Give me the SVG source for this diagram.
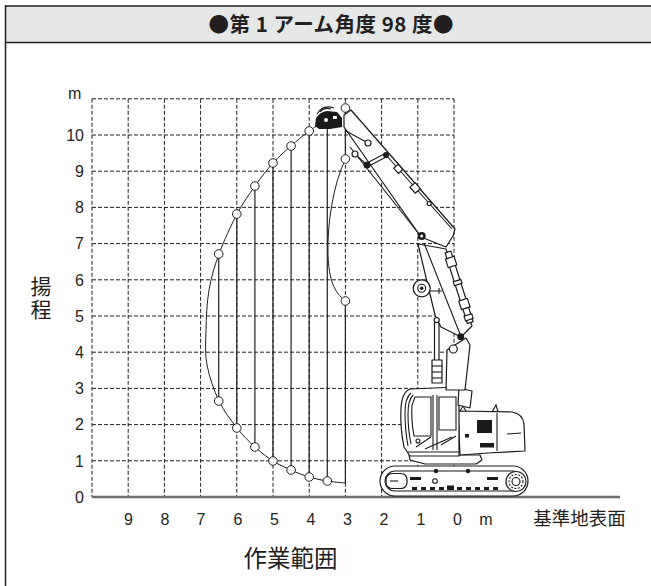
<svg xmlns="http://www.w3.org/2000/svg" width="651" height="586" viewBox="0 0 651 586">
<style>
.ln{stroke:#231f20;fill:none}
.grid line{stroke:#231f20;stroke-width:1;stroke-dasharray:4 2}
.num{font-family:"Liberation Sans",Arial,sans-serif;font-size:16px;fill:#231f20}
.jp{font-family:"Noto Sans CJK JP",sans-serif;fill:#231f20}
.pt{fill:#fff;stroke:#231f20;stroke-width:1}
.ex{stroke:#1a1a1a;stroke-width:1.2;fill:#fff;stroke-linejoin:round}
.exl{stroke:#1a1a1a;stroke-width:1.1;fill:none}
.blk{fill:#1a1a1a}
</style>
<g id="frame">
<rect x="5.5" y="6" width="646" height="36.5" fill="#e6e7e7"/>
<line x1="5" y1="6" x2="651" y2="6" stroke="#231f20" stroke-width="1.5"/>
<line x1="5" y1="42.5" x2="651" y2="42.5" stroke="#231f20" stroke-width="1.5"/>
<line x1="5.5" y1="5.3" x2="5.5" y2="586" stroke="#231f20" stroke-width="1.5"/>
</g>
<g id="title">
<text class="jp" x="331" y="31.5" text-anchor="middle" font-size="20.5" font-weight="700" textLength="245" lengthAdjust="spacing">●第 1 アーム角度 98 度●</text>
</g>
<g id="grid" class="grid">
<line x1="92" y1="98.8" x2="92" y2="497"/>
<line x1="128.2" y1="98.8" x2="128.2" y2="497"/>
<line x1="164.4" y1="98.8" x2="164.4" y2="497"/>
<line x1="200.6" y1="98.8" x2="200.6" y2="497"/>
<line x1="236.8" y1="98.8" x2="236.8" y2="497"/>
<line x1="273" y1="98.8" x2="273" y2="497"/>
<line x1="309.2" y1="98.8" x2="309.2" y2="497"/>
<line x1="345.4" y1="98.8" x2="345.4" y2="497"/>
<line x1="381.6" y1="98.8" x2="381.6" y2="497"/>
<line x1="417.8" y1="98.8" x2="417.8" y2="497"/>
<line x1="454" y1="98.8" x2="454" y2="497"/>
<line x1="92" y1="98.8" x2="454" y2="98.8"/>
<line x1="92" y1="135" x2="454" y2="135"/>
<line x1="92" y1="171.2" x2="454" y2="171.2"/>
<line x1="92" y1="207.4" x2="454" y2="207.4"/>
<line x1="92" y1="243.6" x2="454" y2="243.6"/>
<line x1="92" y1="279.8" x2="454" y2="279.8"/>
<line x1="92" y1="316" x2="454" y2="316"/>
<line x1="92" y1="352.2" x2="454" y2="352.2"/>
<line x1="92" y1="388.4" x2="454" y2="388.4"/>
<line x1="92" y1="424.6" x2="454" y2="424.6"/>
<line x1="92" y1="460.8" x2="454" y2="460.8"/>
</g>
<g id="ground">
<line x1="92" y1="497" x2="620" y2="497" stroke="#6d6e71" stroke-width="2.5"/>
</g>
<g id="y-axis">
<text class="num" x="68" y="99">m</text>
<g text-anchor="end">
<text class="num" x="84" y="140.8">10</text>
<text class="num" x="84" y="177">9</text>
<text class="num" x="84" y="213.2">8</text>
<text class="num" x="84" y="249.4">7</text>
<text class="num" x="84" y="285.6">6</text>
<text class="num" x="84" y="321.8">5</text>
<text class="num" x="84" y="358">4</text>
<text class="num" x="84" y="394.2">3</text>
<text class="num" x="84" y="430.4">2</text>
<text class="num" x="84" y="466.6">1</text>
<text class="num" x="84" y="502.8">0</text>
</g>
<text class="jp" x="41" y="275.5" font-size="21" style="writing-mode:vertical-rl;letter-spacing:2.3px">揚程</text>
</g>
<g id="x-axis" text-anchor="middle">
<text class="num" x="128.5" y="524.5" font-size="16.5">9</text>
<text class="num" x="165" y="524.5" font-size="16.5">8</text>
<text class="num" x="201" y="524.5" font-size="16.5">7</text>
<text class="num" x="238" y="524.5" font-size="16.5">6</text>
<text class="num" x="274.5" y="524.5" font-size="16.5">5</text>
<text class="num" x="311" y="524.5" font-size="16.5">4</text>
<text class="num" x="347.5" y="524.5" font-size="16.5">3</text>
<text class="num" x="384" y="524.5" font-size="16.5">2</text>
<text class="num" x="421" y="524.5" font-size="16.5">1</text>
<text class="num" x="457.5" y="524.5" font-size="16.5">0</text>
<text class="num" x="486" y="524.5" font-size="16.5">m</text>
<text class="jp" x="579.5" y="525" font-size="18.5">基準地表面</text>
<text class="jp" x="290.5" y="567" font-size="23.5">作業範囲</text>
</g>
<g id="working-range" class="ln">
<path stroke-width="1" d="M325,121 C322.3,122.7 314.7,126.8 309,131 C303.3,135.2 297,140.7 291,146 C285,151.3 279,156.3 273,163 C267,169.7 261,177.5 255,186 C249,194.5 243,202.7 237,214 C231,225.3 223.7,241.3 219,254 C214.3,266.7 211.2,277.3 209,290 C206.8,302.7 206.3,317.5 206,330 C205.7,342.5 204.8,353.2 207,365 C209.2,376.8 214,390.5 219,401 C224,411.5 231,420.3 237,428 C243,435.7 249,441.5 255,447 C261,452.5 267,457.2 273,461 C279,464.8 285,467.3 291,470 C297,472.7 303,475.2 309,477 C315,478.8 321,480 327,481 C333,482 342,482.7 345.4,483"/>
<path stroke-width="1" d="M345.4,159 C333,185 327,225 328,255 C329,280 334,292 345.4,301"/>
<g stroke-width="1.2">
<line x1="218.7" y1="254" x2="218.7" y2="401"/>
<line x1="236.8" y1="214" x2="236.8" y2="428"/>
<line x1="254.9" y1="186" x2="254.9" y2="447"/>
<line x1="273" y1="163" x2="273" y2="461"/>
<line x1="291.1" y1="146" x2="291.1" y2="470"/>
<line x1="309.2" y1="131" x2="309.2" y2="477"/>
<line x1="327.3" y1="124" x2="327.3" y2="481"/>
<line x1="345.4" y1="108" x2="345.4" y2="159"/>
<line x1="345.4" y1="301" x2="345.4" y2="483"/>
</g>
</g>
<g id="excavator">
<g id="track">
<rect class="ex" x="380" y="466" width="148" height="30" rx="15" stroke-width="1.6"/>
<rect class="exl" x="385" y="471" width="138" height="20" rx="10"/>
<rect class="ex" x="386" y="473.5" width="21" height="15" rx="6"/>
<line class="exl" x1="390" y1="481" x2="398" y2="481" stroke-width="2"/>
<circle class="ex" cx="516" cy="481.5" r="10" stroke-width="1.5"/>
<circle class="exl" cx="516" cy="481.5" r="7" stroke-dasharray="2 1.5" stroke-width="2"/>
<circle class="exl" cx="516" cy="481.5" r="4"/>
<rect class="blk" x="412" y="487" width="5" height="3"/>
<rect class="blk" x="421" y="487" width="5" height="3"/>
<rect class="blk" x="430" y="487" width="5" height="3"/>
<rect class="blk" x="439" y="487" width="5" height="3"/>
<rect class="blk" x="447" y="485.5" width="7" height="4.5"/>
<rect class="blk" x="457" y="487" width="5" height="3"/>
<rect class="blk" x="466" y="487" width="5" height="3"/>
<rect class="blk" x="475" y="487" width="5" height="3"/>
<rect class="blk" x="484" y="487" width="5" height="3"/>
<rect class="blk" x="493" y="487" width="5" height="3"/>
<circle class="blk" cx="436" cy="471" r="2.2"/>
<circle class="blk" cx="468" cy="471" r="2.2"/>
<circle class="exl" cx="435" cy="481" r="2.3"/>
<rect class="blk" x="410" y="477" width="11" height="3"/>
<rect class="blk" x="487" y="477" width="11" height="3"/>
</g>
<path class="ex" d="M409,455 L480,455 L482,460 L476,464 L425,464 L410,460 Z"/>
<g id="housing">
<path class="ex" d="M458,411 L512,412 Q523,414 524,424 L525,451 L488,453 L460,455 Z"/>
<rect class="blk" x="477" y="420" width="15" height="13"/>
<rect class="blk" x="465" y="434" width="4" height="3.5"/>
<rect class="blk" x="480" y="443" width="14" height="4.5"/>
<line class="exl" x1="497" y1="413" x2="497" y2="451"/>
<path class="exl" d="M507,434 L521,433"/>
<path class="exl" d="M492,412 L496,405 L498,412"/>
<path class="exl" d="M460,411 L463,406 L466,411"/>
</g>
<g id="cab">
<path class="ex" d="M410,456 L404,447 Q400,428 401,408 Q402,392 410,389 L459,387 L459,456 Z" stroke-width="1.5"/>
<path class="exl" d="M411,393 Q405,398 405,412 Q405,430 408,446"/>
<path class="exl" d="M413,395 Q408,400 408,414 Q408,430 411,444"/>
<path class="exl" d="M415,397 L431,397 L431,436 L414,436 Q411,420 412,405 Z"/>
<line class="exl" x1="433" y1="395" x2="433" y2="450"/>
<line class="exl" x1="437" y1="395" x2="437" y2="450"/>
<path class="exl" d="M439,397 L456,397 L456,430 L439,430 Z"/>
<path class="exl" d="M416,447 L431,437 M425,449 L452,437 M441,445 L456,436"/>
<circle class="exl" cx="418" cy="441" r="2"/>
<line class="exl" x1="408" y1="452" x2="459" y2="452"/>
</g>
<path class="ex" d="M459,388 L472,391 L470,408 L458,405 Z"/>
<g id="boom">
<path class="ex" d="M447,350 L466,338 L470,345 L465,390 L446,390 Z"/>
<rect class="ex" x="434.5" y="322" width="4.5" height="40"/>
<rect class="ex" x="432" y="360" width="10" height="23"/>
<line class="exl" x1="432" y1="366" x2="442" y2="366"/>
<line class="exl" x1="432" y1="372" x2="442" y2="372"/>
<line class="exl" x1="432" y1="378" x2="442" y2="378"/>
<path class="ex" d="M418,244 L446,249 L472,326 L461,337 L441,327 L435,315 Z"/>
<line class="exl" x1="424" y1="243" x2="460" y2="334"/>
<circle class="ex" cx="436.7" cy="320" r="2.5"/>
<g transform="translate(448,252) rotate(72.5)">
<rect class="ex" x="0" y="-3" width="74" height="6"/>
<rect class="ex" x="6" y="-4.5" width="9" height="9"/>
<rect class="ex" x="30" y="-4" width="4" height="8"/>
<rect class="ex" x="50" y="-4.5" width="9" height="9"/>
<rect class="ex" x="66" y="-4" width="5" height="8"/>
</g>
<circle class="ex" cx="453.3" cy="349" r="4"/>
<circle class="blk" cx="460.7" cy="336.7" r="3.5"/>
<circle class="ex" cx="421.7" cy="288.3" r="8.5"/>
<circle class="exl" cx="421.7" cy="288.3" r="4"/>
<circle class="blk" cx="421.7" cy="288.3" r="1.8"/>
<path class="exl" d="M430,291 L442,291 M439,288 L439,294" stroke-width="2"/>
</g>
<g id="arm">
<path class="ex" d="M344,127 L344,115 L351,110 L455,229 L453,236 L446,247 L421,237 Z" stroke-width="1.4"/>
<line class="exl" x1="350" y1="147" x2="419" y2="234"/>
<line class="exl" x1="346" y1="131" x2="368" y2="143"/>
<line class="exl" x1="386" y1="155" x2="452" y2="229"/>
<g transform="translate(386,155) rotate(48.4)">
<rect class="ex" x="15" y="-3" width="7" height="6"/>
<rect class="ex" x="40" y="-3.5" width="8" height="7"/>
<circle class="ex" cx="65" cy="0" r="2"/>
</g>
<line class="exl" x1="355" y1="154" x2="367" y2="165"/>
<path class="exl" d="M367,163 L386,153 M367,167 L386,157"/>
<circle class="ex" cx="368" cy="143" r="3" stroke-width="1.5"/>
<circle class="ex" cx="355" cy="154" r="3" stroke-width="1.5"/>
<circle class="blk" cx="367" cy="165" r="3.5"/>
<circle class="blk" cx="386" cy="155" r="3"/>
<circle class="blk" cx="421.7" cy="236" r="4"/>
<circle cx="421.7" cy="236" r="1.5" fill="#fff"/>
</g>
<g id="bucket">
<path class="blk" d="M315,126 L316,118 Q320,112 327,111 L337,112 L342,118 L342,127 L330,129 L319,129 Z"/>
<path class="exl" d="M317,114 Q323,104 334,108" stroke-width="1.5"/>
<path class="exl" d="M320,112 Q324,107 331,109"/>
<circle cx="326" cy="120" r="2" fill="#fff"/>
<rect x="333" y="116" width="4" height="3" fill="#fff"/>
</g>
</g>
<g id="points">
<circle class="pt" cx="218.7" cy="254" r="4.3"/>
<circle class="pt" cx="236.8" cy="214" r="4.3"/>
<circle class="pt" cx="254.9" cy="186" r="4.3"/>
<circle class="pt" cx="273" cy="163" r="4.3"/>
<circle class="pt" cx="291.1" cy="146" r="4.3"/>
<circle class="pt" cx="309.2" cy="131" r="4.3"/>
<circle class="pt" cx="345.4" cy="108" r="4.3"/>
<circle class="pt" cx="345.4" cy="159" r="4.3"/>
<circle class="pt" cx="345.4" cy="301" r="4.3"/>
<circle class="pt" cx="218.7" cy="401" r="4.3"/>
<circle class="pt" cx="236.8" cy="428" r="4.3"/>
<circle class="pt" cx="254.9" cy="447" r="4.3"/>
<circle class="pt" cx="273" cy="461" r="4.3"/>
<circle class="pt" cx="291.1" cy="470" r="4.3"/>
<circle class="pt" cx="309.2" cy="477" r="4.3"/>
<circle class="pt" cx="327.3" cy="481" r="4.3"/>
</g>
</svg>
